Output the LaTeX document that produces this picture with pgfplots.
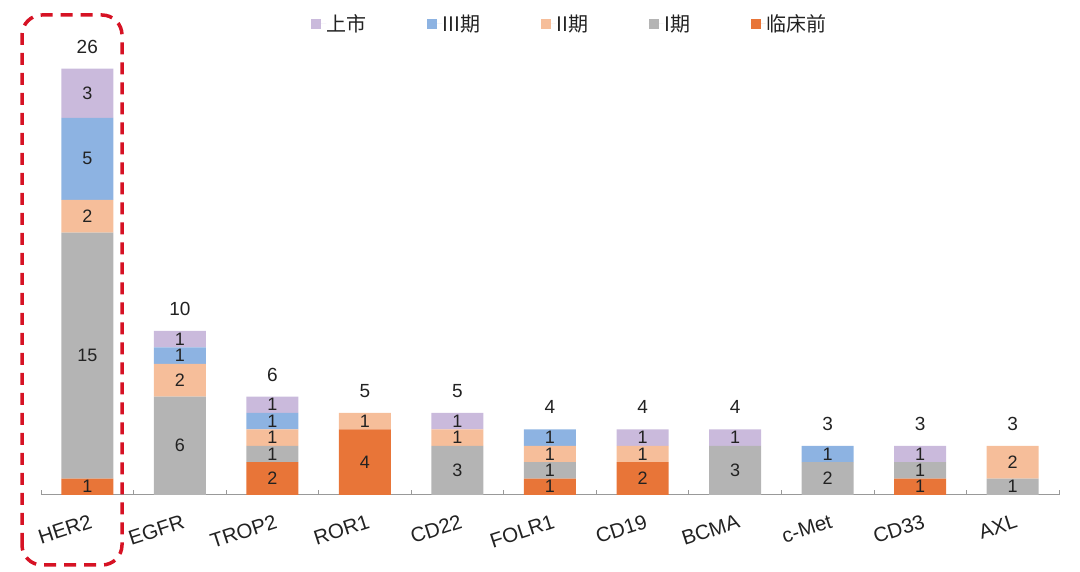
\documentclass[border=0pt]{standalone}
\usepackage{pgfplots}
\pgfplotsset{compat=1.18}
\usepackage{pgfplotstable}
\usepackage{fontspec}
\setmainfont{Liberation Sans}
\newfontfamily\cjk{Noto Sans CJK SC}
\definecolor{cPre}{RGB}{232,117,56}
\definecolor{cI}{RGB}{180,180,180}
\definecolor{cII}{RGB}{246,190,154}
\definecolor{cIII}{RGB}{141,179,226}
\definecolor{cMkt}{RGB}{202,186,220}
\definecolor{cRed}{RGB}{214,18,36}
\definecolor{cTxt}{RGB}{34,34,34}
\pgfplotstableread{
x pre I II III mkt total
0 1 15 2 5 3 26
1 0 6 2 1 1 10
2 2 1 1 1 1 6
3 4 0 1 0 0 5
4 0 3 1 0 1 5
5 1 1 1 1 0 4
6 2 0 1 0 1 4
7 0 3 0 0 1 4
8 0 2 0 1 0 3
9 1 1 0 0 1 3
10 0 1 2 0 0 3
}\data
\pgfplotsset{
  seg/.style={fill=#1, draw=none, point meta=explicit,
    nodes near coords={\pgfmathfloatifflags{\pgfplotspointmeta}{0}{}{\pgfmathprintnumber{\pgfplotspointmeta}}},
    every node near coord/.style={anchor=center,
      font=\fontsize{18}{20}\selectfont, text=cTxt, inner sep=0pt}},
  common/.style={at={(41pt,77pt)}, anchor=south west,
    scale only axis, width=1018pt, height=459.2pt,
    xmin=-0.5, xmax=10.5, ymin=0, ymax=28,
    /pgf/number format/assume math mode=true},
}
\begin{document}
\begin{tikzpicture}[x=1pt,y=1pt]
\useasboundingbox (0,0) rectangle (1080,572);
\begin{axis}[common,
  ybar stacked, bar width=52pt,
  axis x line*=bottom, axis y line=none,
  xtick={0,...,10},
  xticklabels={HER2,EGFR,TROP2,ROR1,CD22,FOLR1,CD19,BCMA,c-Met,CD33,AXL},
  major x tick style={draw=none},
  minor xtick={-0.5,0.5,...,10.5},
  minor x tick style={draw=gray!80, line width=0.8pt},
  minor tick length=5pt, tick align=inside,
  x axis line style={draw=gray!80, line width=1pt},
  xticklabel style={rotate=18, anchor=north east, font=\fontsize{20.5}{22}\selectfont, text=cTxt, xshift=-1pt, yshift=-15pt},
  legend style={at={(0.5,1)}, anchor=center, xshift=19pt, yshift=12pt, draw=none, fill=none,
    font=\cjk\fontsize{20}{22}\selectfont, text=cTxt,
    /tikz/every even column/.append style={column sep=60pt},
    nodes={inner sep=0.5pt}},
  legend columns=5,
  legend image code/.code={\fill[#1] (0pt,-5pt) rectangle (10pt,5pt); \path (0pt,0pt) -- (15pt,0pt);},
  reverse legend,
]
\addplot[seg=cPre] table[x=x,y=pre,meta=pre]{\data};
\addlegendentry{临床前}
\addplot[seg=cI] table[x=x,y=I,meta=I]{\data};
\addlegendentry{I期}
\addplot[seg=cII] table[x=x,y=II,meta=II]{\data};
\addlegendentry{II期}
\addplot[seg=cIII] table[x=x,y=III,meta=III]{\data};
\addlegendentry{III期}
\addplot[seg=cMkt] table[x=x,y=mkt,meta=mkt]{\data};
\addlegendentry{上市}
\end{axis}
\begin{axis}[common, hide axis, clip=false]
\addplot[draw=none, mark=none, point meta=explicit, nodes near coords,
  every node near coord/.style={anchor=center, yshift=22pt, font=\fontsize{19}{21}\selectfont, text=cTxt}]
  table[x=x,y=total,meta=total]{\data};
\end{axis}
\draw[cRed, line width=3.5pt, dash pattern=on 12pt off 8pt, rounded corners=20pt] (22,7) rectangle (122,557);
\end{tikzpicture}
\end{document}
